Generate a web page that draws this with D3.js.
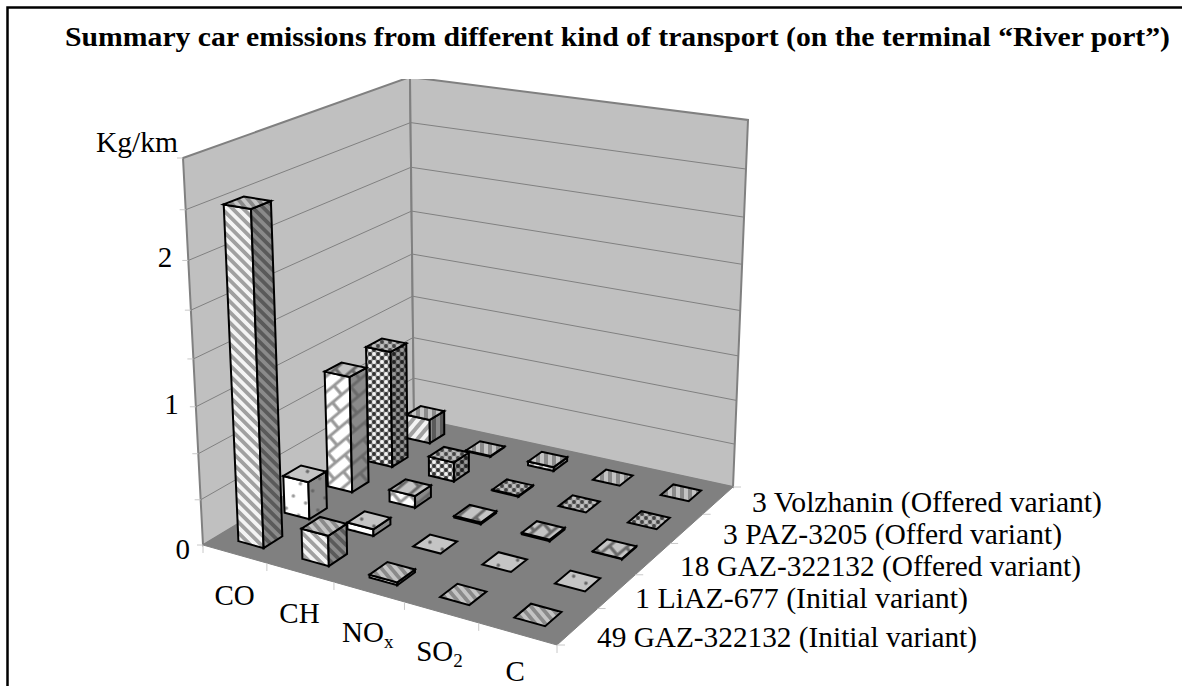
<!DOCTYPE html>
<html><head><meta charset="utf-8">
<script src="https://cdn.jsdelivr.net/npm/d3@7"></script>
<style>html,body{margin:0;padding:0;background:#fff}svg{display:block}text{font-family:"Liberation Serif","Times New Roman",serif;fill:#000}</style>
</head><body><svg id="c" width="1182" height="686"></svg>
<script>
// ---- data ----
const categories = ["CO","CH","NOx","SO2","C"];
const seriesNames = ["49 GAZ-322132 (Initial variant)","1 LiAZ-677 (Initial variant)","18 GAZ-322132 (Offered variant)","3 PAZ-3205 (Offerd variant)","3 Volzhanin (Offered variant)"];
const gaz49 = [2.35,0.22,0.02,0,0];
const liaz1 = [0.28,0.05,0,0,0];
const gaz18 = [0.88,0.09,0.012,0.012,0.004];
const paz3  = [0.90,0.15,0.006,0,0];
const volz3 = [0.19,0.006,0.03,0,0];
const seriesValues = [gaz49,liaz1,gaz18,paz3,volz3];
const valueTicks = [0,1,2];
const yMax = 8/3;
const gridValues = d3.range(0,9).map(i=>i/3);

// ---- layout ----
const W=1182,H=686;
const floorQuad=[[203,545],[557,645],[733,487],[414,418]];
const topQuad=[[183,158],[563,218],[748,120],[410,77]];
const svg=d3.select("#c");
// square-to-quad mapping; corners in order (0,0),(1,0),(1,1),(0,1)
function quadMap([p0,p1,p2,p3]){
  const dx1=p1[0]-p2[0],dx2=p3[0]-p2[0],dy1=p1[1]-p2[1],dy2=p3[1]-p2[1];
  const sx=p0[0]-p1[0]+p2[0]-p3[0],sy=p0[1]-p1[1]+p2[1]-p3[1];
  const den=dx1*dy2-dx2*dy1;
  const g=(sx*dy2-dx2*sy)/den,h=(dx1*sy-sx*dy1)/den;
  const a=p1[0]-p0[0]+g*p1[0],b=p3[0]-p0[0]+h*p3[0],d=p1[1]-p0[1]+g*p1[1],e=p3[1]-p0[1]+h*p3[1];
  return (u,v)=>{const z=g*u+h*v+1;return [(a*u+b*v+p0[0])/z,(d*u+e*v+p0[1])/z];};
}
const floorMap=quadMap(floorQuad),topMap=quadMap(topQuad);
// u along categories, v into depth, w up (mild foreshortening in w)
function P(u,v,w){
  const s=w/(1+0.08*(1-w));
  const f=floorMap(u,v),t=topMap(u,v);
  return [f[0]+(t[0]-f[0])*s,f[1]+(t[1]-f[1])*s];
}

const xBand=d3.scaleBand().domain(categories).range([0,1]).paddingInner(0.6).paddingOuter(0.32);
const zBand=d3.scaleBand().domain(seriesNames).range([0,1]).paddingInner(0.6).paddingOuter(0.32);
const yS=d3.scaleLinear().domain([0,yMax]).range([0,1]);
const poly=d3.line().curve(d3.curveLinearClosed);
const seg=d3.line();

// ---- patterns ----
const defs=svg.append("defs");
function pat(id,w,ht,bg,transform,draw){
  const pt=defs.append("pattern").attr("id",id).attr("patternUnits","userSpaceOnUse").attr("width",w).attr("height",ht);
  if(transform)pt.attr("patternTransform",transform);
  pt.append("rect").attr("width",w).attr("height",ht).attr("fill",bg);
  draw(pt);
}
const shades={front:["#f4f4f4","#a0a0a0"],side:["#8a8a8a","#5a5a5a"],top:["#c4c4c4","#8a8a8a"]};
function stripes(id,bg,fg,angle,period,wd){pat(id,period,period,bg,`rotate(${angle})`,s=>s.append("rect").attr("width",wd).attr("height",period).attr("fill",fg));}
Object.entries(shades).forEach(([face,[bg,fg]])=>{
  stripes(`s0-${face}`,bg,fg,face==="top"?-40:-45,7.5,3.75);
  pat(`s1-${face}`,20,20,face==="front"?"#ffffff":bg,"rotate(-15)",s=>{
    s.append("circle").attr("cx",5).attr("cy",5).attr("r",1.8).attr("fill",face==="front"?"#999":"#666");
    s.append("circle").attr("cx",15).attr("cy",15).attr("r",1.8).attr("fill",face==="front"?"#999":"#666");
  });
  pat(`s2-${face}`,24,24,face==="front"?"#ffffff":bg,"rotate(-40)",s=>{
    s.append("path").attr("d","M0 6H24M0 18H24M8 6V18M20 0V6M20 18V24").attr("stroke",face==="front"?"#999":"#6a6a6a").attr("stroke-width",3.2).attr("fill","none");
  });
  const cb={front:["#909090","#333","#f4f4f4"],side:["#606060","#222","#999"],top:["#999","#444","#c0c0c0"]}[face];
  pat(`s3-${face}`,8,8,cb[0],null,s=>{
    [[2,2,1],[6,6,1],[6,2,2],[2,6,2]].forEach(([x,y,k])=>s.append("circle").attr("cx",x).attr("cy",y).attr("r",1.9).attr("fill",cb[k]));
  });
  stripes(`s4-${face}`,bg,fg,face==="front"?40:0,8,4);
});

// ---- frame ----
svg.append("path").attr("d",seg([[W,7.5],[7.5,7.5],[7.5,H]])).attr("fill","none").attr("stroke","#000").attr("stroke-width",2.5);

// ---- walls & floor ----
svg.append("clipPath").attr("id","clipTop").append("rect").attr("x",0).attr("y",79).attr("width",W).attr("height",H);
const box=svg.append("g").attr("clip-path","url(#clipTop)");
box.append("path").attr("d",poly([P(0,0,0),P(0,1,0),P(0,1,1),P(0,0,1)])).attr("fill","#c0c0c0").attr("stroke","#808080").attr("stroke-width",2);
box.append("path").attr("d",poly([P(0,1,0),P(1,1,0),P(1,1,1),P(0,1,1)])).attr("fill","#c0c0c0").attr("stroke","#808080").attr("stroke-width",2);
gridValues.slice(1,-1).forEach(t=>{
  const w=yS(t);
  box.append("path").attr("d",seg([P(0,0,w),P(0,1,w),P(1,1,w)])).attr("fill","none").attr("stroke","#808080").attr("stroke-width",1);
});
svg.append("path").attr("d",poly([P(0,0,0),P(1,0,0),P(1,1,0),P(0,1,0)])).attr("fill","#808080").attr("stroke","#808080");

// ---- tick marks ----
const tickColor="#c8c8c8";
gridValues.forEach(t=>{const q0=P(0,0,yS(t));svg.append("line").attr("x1",q0[0]-6).attr("x2",q0[0]).attr("y1",q0[1]).attr("y2",q0[1]).attr("stroke",tickColor);});
d3.range(0,6).forEach(i=>{const q0=P(i/5,0,0);svg.append("line").attr("x1",q0[0]).attr("x2",q0[0]).attr("y1",q0[1]).attr("y2",q0[1]+8).attr("stroke",tickColor);});
d3.range(0,6).forEach(i=>{const q0=P(1,i/5,0);svg.append("line").attr("x1",q0[0]).attr("x2",q0[0]+8).attr("y1",q0[1]).attr("y2",q0[1]).attr("stroke",tickColor);});

// ---- bars (painter's order: back rows first, left to right) ----
const barsG=svg.append("g");
const order=[];
d3.range(seriesNames.length-1,-1,-1).forEach(si=>categories.forEach((cat,ci)=>order.push({si,ci,cat,val:seriesValues[si][ci]})));
order.forEach(o=>{
  const u0=xBand(o.cat),u1=u0+xBand.bandwidth();
  const v0=zBand(seriesNames[o.si]),v1=v0+zBand.bandwidth();
  const w=yS(o.val);
  const gr=barsG.append("g").attr("stroke","#000").attr("stroke-width",2).attr("stroke-linejoin","miter");
  if(o.val>0){
    gr.append("path").attr("d",poly([P(u0,v0,0),P(u1,v0,0),P(u1,v0,w),P(u0,v0,w)])).attr("fill",`url(#s${o.si}-front)`);
    gr.append("path").attr("d",poly([P(u1,v0,0),P(u1,v1,0),P(u1,v1,w),P(u1,v0,w)])).attr("fill",`url(#s${o.si}-side)`);
  }
  gr.append("path").attr("d",poly([P(u0,v0,w),P(u1,v0,w),P(u1,v1,w),P(u0,v1,w)])).attr("fill",`url(#s${o.si}-top)`);
});

// ---- text ----
svg.append("text").attr("x",65).attr("y",46).attr("font-size",27).attr("font-weight","bold").attr("textLength",1105).attr("lengthAdjust","spacingAndGlyphs")
  .text("Summary car emissions from different kind of transport (on the terminal \u201cRiver port\u201d)");
svg.append("text").attr("x",96).attr("y",152).attr("font-size",29).attr("textLength",82).attr("lengthAdjust","spacingAndGlyphs").text("Kg/km");
const tickLabelDx=[-13,-17,-16], tickLabelDy=[14,7,7];
valueTicks.forEach((t,i)=>{const q0=P(0,0,yS(t));
  svg.append("text").attr("x",q0[0]+tickLabelDx[i]).attr("y",q0[1]+tickLabelDy[i]).attr("text-anchor","end").attr("font-size",29).text(t);});
const catLabelParts={CO:["CO",""],CH:["CH",""],NOx:["NO","x"],SO2:["SO","2"],C:["C",""]};
const catLabelDy=[51,50,50,49,47.5];
categories.forEach((cat,i)=>{
  const q0=P(xBand(cat)+xBand.bandwidth()/2,0,0);
  const [main,sub]=catLabelParts[cat];
  const t=svg.append("text").attr("x",q0[0]-1).attr("y",q0[1]+catLabelDy[i]).attr("text-anchor","middle").attr("font-size",29);
  t.append("tspan").text(main);
  if(sub)t.append("tspan").attr("dy",6).attr("font-size",19).text(sub);
});
const seriesLabelX=[597,635,680,723,752], seriesLabelY=[647,608,576,544,512], seriesLabelW=[380,333,401,339,350];
seriesNames.forEach((n,i)=>svg.append("text").attr("x",seriesLabelX[i]).attr("y",seriesLabelY[i]).attr("font-size",29.3).attr("textLength",seriesLabelW[i]).attr("lengthAdjust","spacingAndGlyphs").text(n));
</script></body></html>
